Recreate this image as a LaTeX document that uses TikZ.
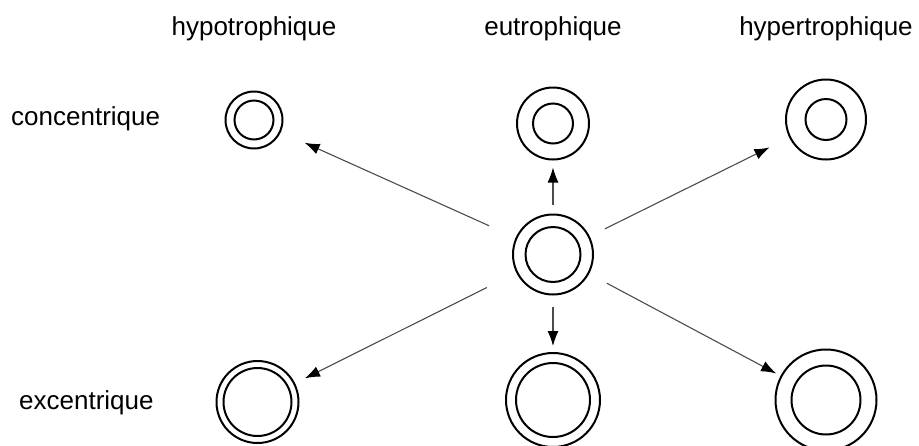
\documentclass[tikz,border=0pt]{standalone}
\usepackage{fontspec}
\setmainfont{Liberation Sans}
\usetikzlibrary{arrows.meta}
\begin{document}
\begin{tikzpicture}[x=1pt,y=-1pt,
  wall/.style={circle,draw,line width=2pt,inner sep=0pt,minimum size=#1},
  lumen/.style={circle,draw,line width=2pt,inner sep=0pt,minimum size=#1},
  arr/.style={draw=black!70,line width=1.1pt,-{Latex[length=15pt,width=11pt,black]}},
  lbl/.style={font=\fontsize{26}{30}\selectfont,inner sep=0pt,anchor=base}]
\useasboundingbox (0,0) rectangle (919,445);

% column and row labels
\node[lbl] (thypo) at (254,35) {hypotrophique};
\node[lbl] (teu) at (553,35) {eutrophique};
\node[lbl] (thyper) at (826,35) {hypertrophique};
\node[lbl,anchor=base west] (tconc) at (11,125) {concentrique};
\node[lbl,anchor=base west] (texc) at (19,409) {excentrique};

% outer walls
\node[wall=57pt] (hc) at (254,120) {};
\node[wall=72pt] (ec) at (553,123.5) {};
\node[wall=80pt] (rc) at (826,119.5) {};
\node[wall=80pt] (m) at (553,254.5) {};
\node[wall=82pt] (hx) at (257.5,402) {};
\node[wall=94pt] (ex) at (553,400) {};
\node[wall=101pt] (rx) at (826,400) {};

% lumens
\node[lumen=39pt] (hcl) at (hc) {};
\node[lumen=40pt] (ecl) at (ec) {};
\node[lumen=41pt] (rcl) at (rc) {};
\node[lumen=55pt] (ml) at (m) {};
\node[lumen=68pt] (hxl) at (hx) {};
\node[lumen=74pt] (exl) at (ex) {};
\node[lumen=69pt] (rxl) at (rx) {};

% remodelling arrows
\draw[arr,shorten <=29pt,shorten >=26pt] (m) -- (hc);
\draw[arr,shorten <=9pt,shorten >=7pt] (m) -- (ec);
\draw[arr,shorten <=17pt,shorten >=22pt] (m) -- (rc);
\draw[arr,shorten <=33pt,shorten >=11pt] (m) -- (hx);
\draw[arr,shorten <=11pt,shorten >=6pt] (m) -- (ex);
\draw[arr,shorten <=20pt,shorten >=5pt] (m) -- (rx);
\end{tikzpicture}
\end{document}
